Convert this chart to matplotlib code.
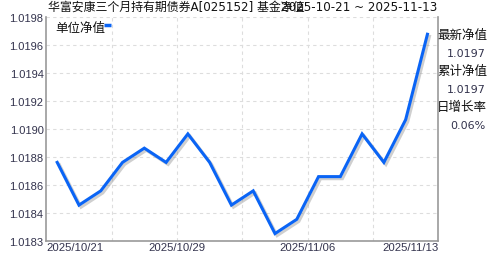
import matplotlib
matplotlib.use("Agg")
import matplotlib.pyplot as plt
import matplotlib.patheffects as pe
import numpy as np

plt.rcParams["font.family"] = ["DejaVu Sans", "Noto Sans CJK SC"]

FUND_TITLE = "华富安康三个月持有期债券A[025152] 基金净值"
DATE_RANGE = "2025-10-21 ~ 2025-11-13"
SERIES_NAME = "单位净值"

dates = ["2025/10/21", "2025/10/22", "2025/10/23", "2025/10/24", "2025/10/27",
         "2025/10/28", "2025/10/29", "2025/10/30", "2025/10/31", "2025/11/03",
         "2025/11/04", "2025/11/05", "2025/11/06", "2025/11/07", "2025/11/10",
         "2025/11/11", "2025/11/12", "2025/11/13"]
nav = [1.0188, 1.0185, 1.0186, 1.0188, 1.0189, 1.0188, 1.0190, 1.0188, 1.0185,
       1.0186, 1.0183, 1.0184, 1.0187, 1.0187, 1.0190, 1.0188, 1.0191, 1.0197]

info_labels = ["最新净值", "累计净值", "日增长率"]
info_values = ["1.0197", "1.0197", "0.06%"]

LINE_BLUE = "#0a64f5"
AXIS_GRAY = "#999999"
GRID_GRAY = "#dddddd"
TEXT_DARK = "#33334d"

fig = plt.figure(figsize=(4.88, 2.55), dpi=100)
ax = fig.add_axes([0.0949, 0.0522, 0.8033, 0.8760])

x = np.arange(len(nav))
ax.plot(x, nav, color=LINE_BLUE, linewidth=2.2, solid_joinstyle="miter",
        path_effects=[pe.SimpleLineShadow(offset=(1.5, -1.5), shadow_color="#888888", alpha=0.4),
                      pe.Normal()], zorder=3)

# padded axis range around the data, like the source chart
span = max(nav) - min(nav)
ylo, yhi = min(nav) - 0.0357 * span, max(nav) + 0.085 * span
ax.set_ylim(ylo, yhi)
xlo, xhi = -0.5, len(nav) - 0.5
ax.set_xlim(xlo, xhi)

yt = np.linspace(ylo, yhi, 9)
ax.set_yticks(yt)
ax.set_yticklabels([f"{v + 1e-9:.4f}" for v in yt], fontsize=8, color=TEXT_DARK,
                   family=["Liberation Sans"])
for v in yt[1:]:
    ax.axhline(v, color=GRID_GRAY, linewidth=0.8, linestyle=(0, (3, 3)), zorder=1)

xg = np.linspace(xlo, xhi, 7)
for v in xg[1:-1]:
    ax.axvline(v, color=GRID_GRAY, linewidth=0.8, linestyle=(0, (3, 3)), zorder=1)

xt = xg[::2]
ax.set_xticks(xt)
labels = ax.set_xticklabels([dates[min(int(round(v + 0.5)), len(dates) - 1)] for v in xt],
                            fontsize=8.2, color=TEXT_DARK, family=["Liberation Sans"])
labels[0].set_ha("left")
labels[-1].set_ha("right")
ax.tick_params(axis="y", length=0, pad=2)
ax.tick_params(axis="x", length=0, pad=1)

for side in ["left", "bottom", "right"]:
    ax.spines[side].set_color(AXIS_GRAY)
    ax.spines[side].set_linewidth(1.2)
ax.spines["top"].set_visible(False)

# legend-like label in the top-left corner
ax.text(0.022, 0.955, SERIES_NAME, transform=ax.transAxes, fontsize=9,
        family=["Noto Sans CJK SC"], ha="left", va="center", color="#111111")
ax.plot([0.148, 0.165], [0.967, 0.967], transform=ax.transAxes, color=LINE_BLUE,
        linewidth=2.5, solid_capstyle="butt", clip_on=False)

fig.text(0.098, 0.972, FUND_TITLE, fontsize=8.6, ha="left", va="center", color="#111111",
         family=["DejaVu Sans", "Noto Sans CJK SC"])
fig.text(0.896, 0.972, DATE_RANGE, fontsize=8.6, ha="right", va="center", color="#111111")

for i, (lab, val) in enumerate(zip(info_labels, info_values)):
    top = 0.862 - i * 0.142
    fig.text(0.998, top, lab, fontsize=9, ha="right", va="center", color="#111111",
             family=["Noto Sans CJK SC"])
    fig.text(0.995, top - 0.072, val, fontsize=8, ha="right", va="center", color=TEXT_DARK)

fig.savefig("out.png", dpi=100, facecolor="white")
